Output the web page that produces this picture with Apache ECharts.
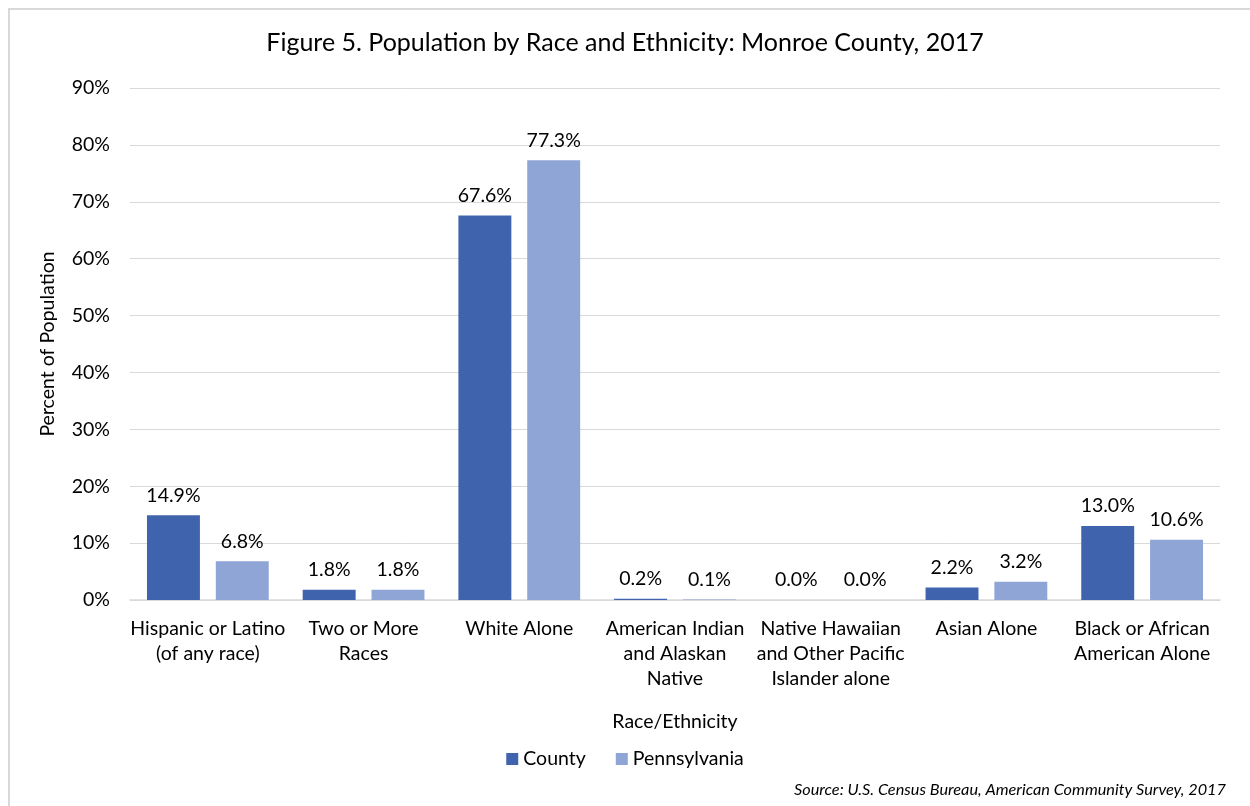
<!DOCTYPE html>
<html>
<head>
<meta charset="utf-8">
<script src="https://cdn.jsdelivr.net/npm/echarts@6/dist/echarts.min.js"></script>
<style>
html,body{margin:0;padding:0;background:#fff;}
#frame{position:absolute;left:8px;top:8px;width:1300px;height:900px;border-left:2px solid #d9d9d9;border-top:2px solid #d9d9d9;box-sizing:border-box;}
#chart{position:absolute;left:0;top:0;width:1250px;height:806px;}
</style>
</head>
<body>
<div id="frame"></div>
<div id="chart"></div>
<script>
const categories = [
  "Hispanic or Latino\n(of any race)",
  "Two or More\nRaces",
  "White Alone",
  "American Indian\nand Alaskan\nNative",
  "Native Hawaiian\nand Other Pacific\nIslander alone",
  "Asian Alone",
  "Black or African\nAmerican Alone"
];
const countyValues = [14.9, 1.8, 67.6, 0.2, 0.0, 2.2, 13.0];
const paValues = [6.8, 1.8, 77.3, 0.1, 0.0, 3.2, 10.6];
const yTicks = [0, 10, 20, 30, 40, 50, 60, 70, 80, 90];

const FONT = 'Lato, "Open Sans", sans-serif';
const FS = 19.5;
const chart = echarts.init(document.getElementById('chart'));
chart.setOption({
  animation: false,
  textStyle: {fontFamily: FONT, color: '#000'},
  title: {
    text: 'Figure 5. Population by Race and Ethnicity: Monroe County, 2017',
    left: 'center', top: 25,
    textStyle: {fontFamily: FONT, fontSize: 25, fontWeight: 'normal', color: '#000'}
  },
  legend: {
    bottom: 32, left: 'center',
    itemWidth: 12, itemHeight: 12, itemGap: 30,
    icon: 'rect',
    textStyle: {fontFamily: FONT, fontSize: FS, color: '#000'},
    data: ['County', 'Pennsylvania']
  },
  graphic: [{
    type: 'text', right: 24, top: 782,
    style: {text: 'Source: U.S. Census Bureau, American Community Survey, 2017', font: 'italic 16.3px ' + FONT, fill: '#000'}
  }],
  grid: {left: 130, right: 30, top: 88, bottom: 206},
  xAxis: {
    type: 'category', data: categories,
    name: 'Race/Ethnicity', nameLocation: 'middle', nameGap: 112,
    nameTextStyle: {fontFamily: FONT, fontSize: FS, color: '#000'},
    axisLine: {lineStyle: {color: '#d9d9d9', width: 1.5}},
    axisTick: {show: false},
    axisLabel: {fontFamily: FONT, fontSize: FS, color: '#000', lineHeight: 25, margin: 16, interval: 0}
  },
  yAxis: {
    type: 'value', min: 0, max: 90, interval: 10,
    name: 'Percent of Population', nameLocation: 'middle', nameGap: 72,
    nameTextStyle: {fontFamily: FONT, fontSize: FS, color: '#000'},
    axisLabel: {fontFamily: FONT, fontSize: FS, color: '#000', margin: 20,
      formatter: v => yTicks.includes(v) ? v + '%' : ''},
    splitLine: {lineStyle: {color: '#d9d9d9', width: 1}},
    axisLine: {show: false}, axisTick: {show: false}
  },
  series: [
    {name: 'County', type: 'bar', data: countyValues, barWidth: '34%', barGap: '30%',
     itemStyle: {color: '#3F64AD'},
     label: {show: true, position: 'top', distance: 10, fontFamily: FONT, fontSize: FS, color: '#000', formatter: p => p.value.toFixed(1) + '%'}},
    {name: 'Pennsylvania', type: 'bar', data: paValues, barWidth: '34%',
     itemStyle: {color: '#8FA5D6'},
     label: {show: true, position: 'top', distance: 10, fontFamily: FONT, fontSize: FS, color: '#000', formatter: p => p.value.toFixed(1) + '%'}}
  ]
});
</script>
</body>
</html>
